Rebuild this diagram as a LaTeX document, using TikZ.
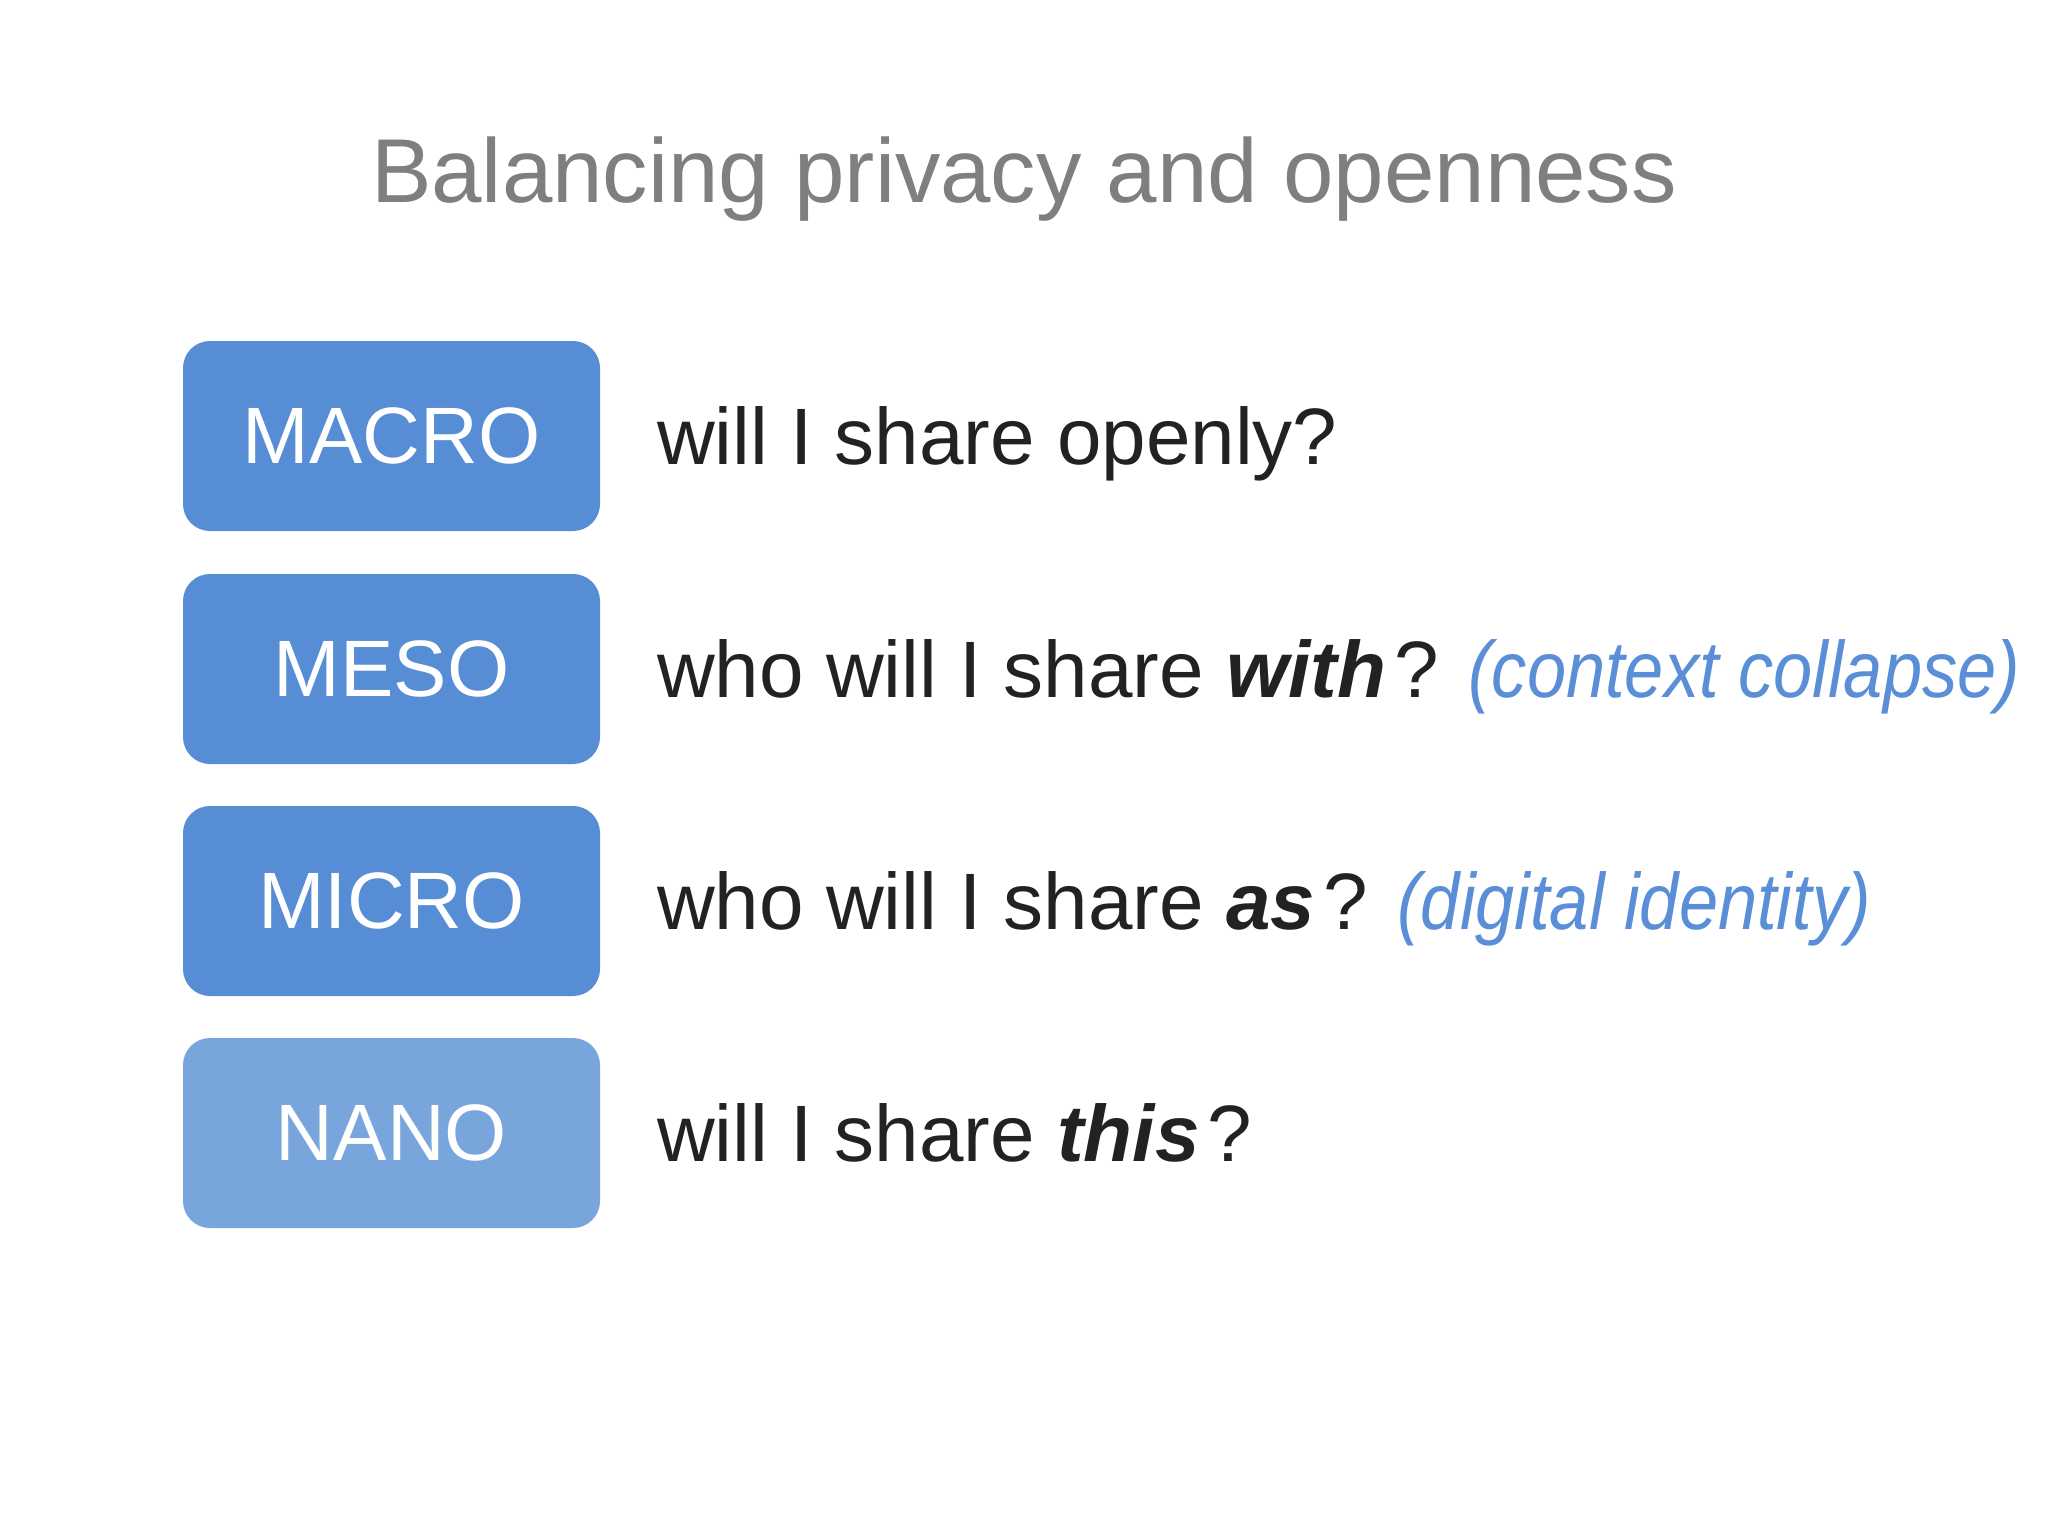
\documentclass[tikz,border=0pt]{standalone}
\usepackage{fontspec}
\usepackage{graphicx}
\setmainfont{Liberation Sans}
\definecolor{boxblue}{HTML}{568DD5}
\definecolor{nanoblue}{HTML}{79A5DD}
\definecolor{titlegray}{HTML}{7F7F7F}
\definecolor{darktext}{HTML}{222222}
\definecolor{noteblue}{HTML}{5A8ED6}
\newcommand{\notetext}[1]{\scalebox{0.88}[1]{\color{noteblue}\itshape #1}}
\begin{document}
\begin{tikzpicture}[x=1pt,y=-1pt]
\tikzset{
  lvl/.style={fill=boxblue, rounded corners=27pt, minimum width=417pt, minimum height=190pt, inner sep=0pt, text=white, font=\fontsize{80}{96}\selectfont},
  question/.style={anchor=base west, inner sep=0pt, text=darktext, font=\fontsize{80}{96}\selectfont}
}
\useasboundingbox (0,0) rectangle (2048,1536);
\fill[white] (0,0) rectangle (2048,1536);
\node[anchor=base, inner sep=0pt, text=titlegray, font=\fontsize{90.7}{110}\selectfont] (title) at (1024,202) {Balancing privacy and openness};
\node[lvl] (macro) at (391.5,436) {MACRO};
\node[lvl] (meso) at (391.5,669) {MESO};
\node[lvl] (micro) at (391.5,901) {MICRO};
\node[lvl, fill=nanoblue] (nano) at (391.5,1133) {NANO};
\node[question] (q1) at (657,464) {will I share openly?};
\node[question] (q2) at (657,697) {who will I share \textbf{\textit{with}}\hspace{0.1em}? \notetext{(context collapse)}};
\node[question] (q3) at (657,929) {who will I share \textbf{\textit{as}}\hspace{0.1em}? \notetext{(digital identity)}};
\node[question] (q4) at (657,1161) {will I share \textbf{\textit{this}}\hspace{0.1em}?};
\end{tikzpicture}
\end{document}
